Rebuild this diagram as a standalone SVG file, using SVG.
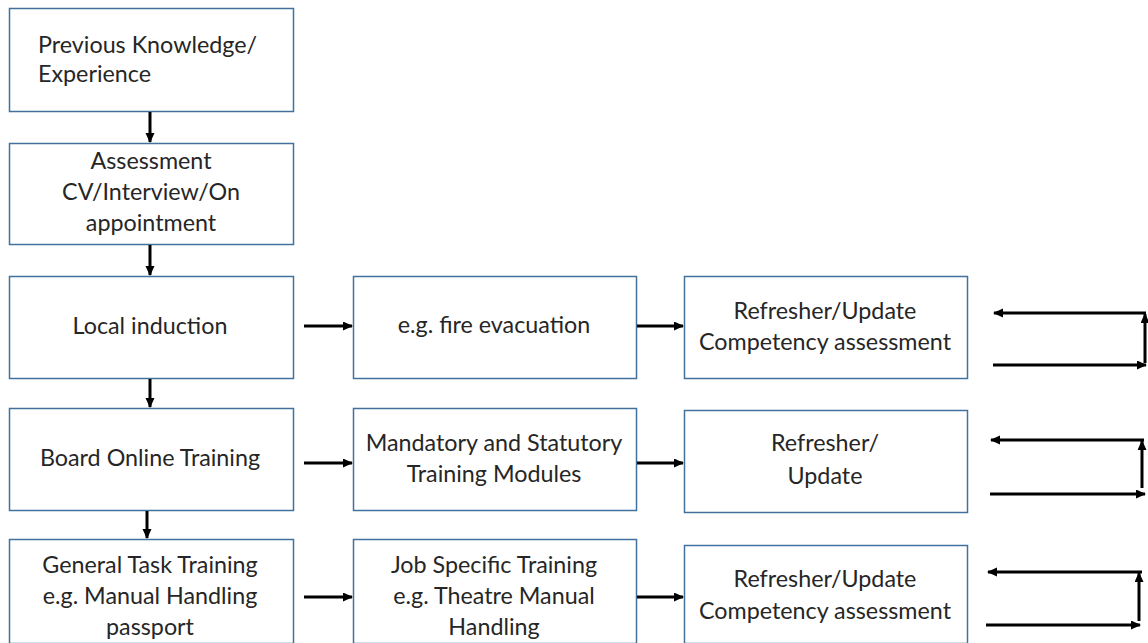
<svg xmlns="http://www.w3.org/2000/svg" width="1148" height="643" viewBox="0 0 1148 643">
<defs>
<marker id="ah" markerWidth="12" markerHeight="12" refX="9" refY="4.5" orient="auto" markerUnits="userSpaceOnUse">
<path d="M0,0 L10,4.5 L0,9 Z" fill="#000"/>
</marker>
<style>
.box{fill:#fff;stroke:#41719c;stroke-width:1.5}
.t{font-family:Lato,"Open Sans",sans-serif;font-size:23.3px;fill:#262626}
.c{text-anchor:middle}
.ln{stroke:#000;stroke-width:3;fill:none;marker-end:url(#ah)}
</style>
</defs>
<rect width="1148" height="643" fill="#fff"/>
<g id="n1"><rect class="box" x="9.5" y="8.5" width="284" height="103"/>
<text class="t" x="38" y="53">Previous Knowledge/</text><text class="t" x="38" y="82">Experience</text></g>
<g id="n2"><rect class="box" x="9.5" y="143.5" width="284" height="101"/>
<text class="t c" x="151" y="169">Assessment</text><text class="t c" x="151" y="200">CV/Interview/On</text><text class="t c" x="151" y="231">appointment</text></g>
<g id="n3"><rect class="box" x="9.5" y="276.5" width="284" height="102"/>
<text class="t c" x="150" y="334">Local induction</text></g>
<g id="n4"><rect class="box" x="9.5" y="408.5" width="284" height="102"/>
<text class="t c" x="150" y="466">Board Online Training</text></g>
<g id="n5"><rect class="box" x="9.5" y="539.5" width="284" height="104"/>
<text class="t c" x="150" y="573">General Task Training</text><text class="t c" x="150" y="604">e.g. Manual Handling</text><text class="t c" x="150" y="635">passport</text></g>
<g id="n6"><rect class="box" x="353.5" y="276.5" width="283" height="102"/>
<text class="t c" x="494" y="333">e.g. fire evacuation</text></g>
<g id="n7"><rect class="box" x="353.5" y="408.5" width="283" height="102"/>
<text class="t c" x="494" y="451">Mandatory and Statutory</text><text class="t c" x="494" y="482">Training Modules</text></g>
<g id="n8"><rect class="box" x="353.5" y="539.5" width="283" height="104"/>
<text class="t c" x="494" y="573">Job Specific Training</text><text class="t c" x="494" y="604">e.g. Theatre Manual</text><text class="t c" x="494" y="635">Handling</text></g>
<g id="n9"><rect class="box" x="684.5" y="276.5" width="283" height="102"/>
<text class="t c" x="825" y="319">Refresher/Update</text><text class="t c" x="825" y="350">Competency assessment</text></g>
<g id="n10"><rect class="box" x="684.5" y="410.5" width="283" height="102"/>
<text class="t c" x="825" y="451">Refresher/</text><text class="t c" x="825" y="484">Update</text></g>
<g id="n11"><rect class="box" x="684.5" y="545.5" width="283" height="98"/>
<text class="t c" x="825" y="587">Refresher/Update</text><text class="t c" x="825" y="619">Competency assessment</text></g>
<g id="connectors">
<line class="ln" x1="150" y1="112" x2="150" y2="142"/>
<line class="ln" x1="150" y1="245" x2="150" y2="275"/>
<line class="ln" x1="150" y1="379" x2="150" y2="407"/>
<line class="ln" x1="147" y1="511" x2="147" y2="538"/>
<line class="ln" x1="304" y1="326" x2="352" y2="326"/>
<line class="ln" x1="637" y1="326" x2="683" y2="326"/>
<line class="ln" x1="304" y1="463" x2="352" y2="463"/>
<line class="ln" x1="637" y1="463" x2="683" y2="463"/>
<line class="ln" x1="304" y1="597" x2="352" y2="597"/>
<line class="ln" x1="637" y1="597" x2="683" y2="597"/>
<line class="ln" x1="993" y1="365" x2="1146" y2="365"/>
<line class="ln" x1="1145" y1="363" x2="1145" y2="314"/>
<line class="ln" x1="1146" y1="313" x2="994" y2="313"/>
<line class="ln" x1="990" y1="494" x2="1145" y2="494"/>
<line class="ln" x1="1142" y1="488" x2="1142" y2="441"/>
<line class="ln" x1="1144" y1="440" x2="991" y2="440"/>
<line class="ln" x1="986" y1="625" x2="1140" y2="625"/>
<line class="ln" x1="1139" y1="621" x2="1139" y2="573"/>
<line class="ln" x1="1142" y1="572" x2="988" y2="572"/>
</g>
</svg>
